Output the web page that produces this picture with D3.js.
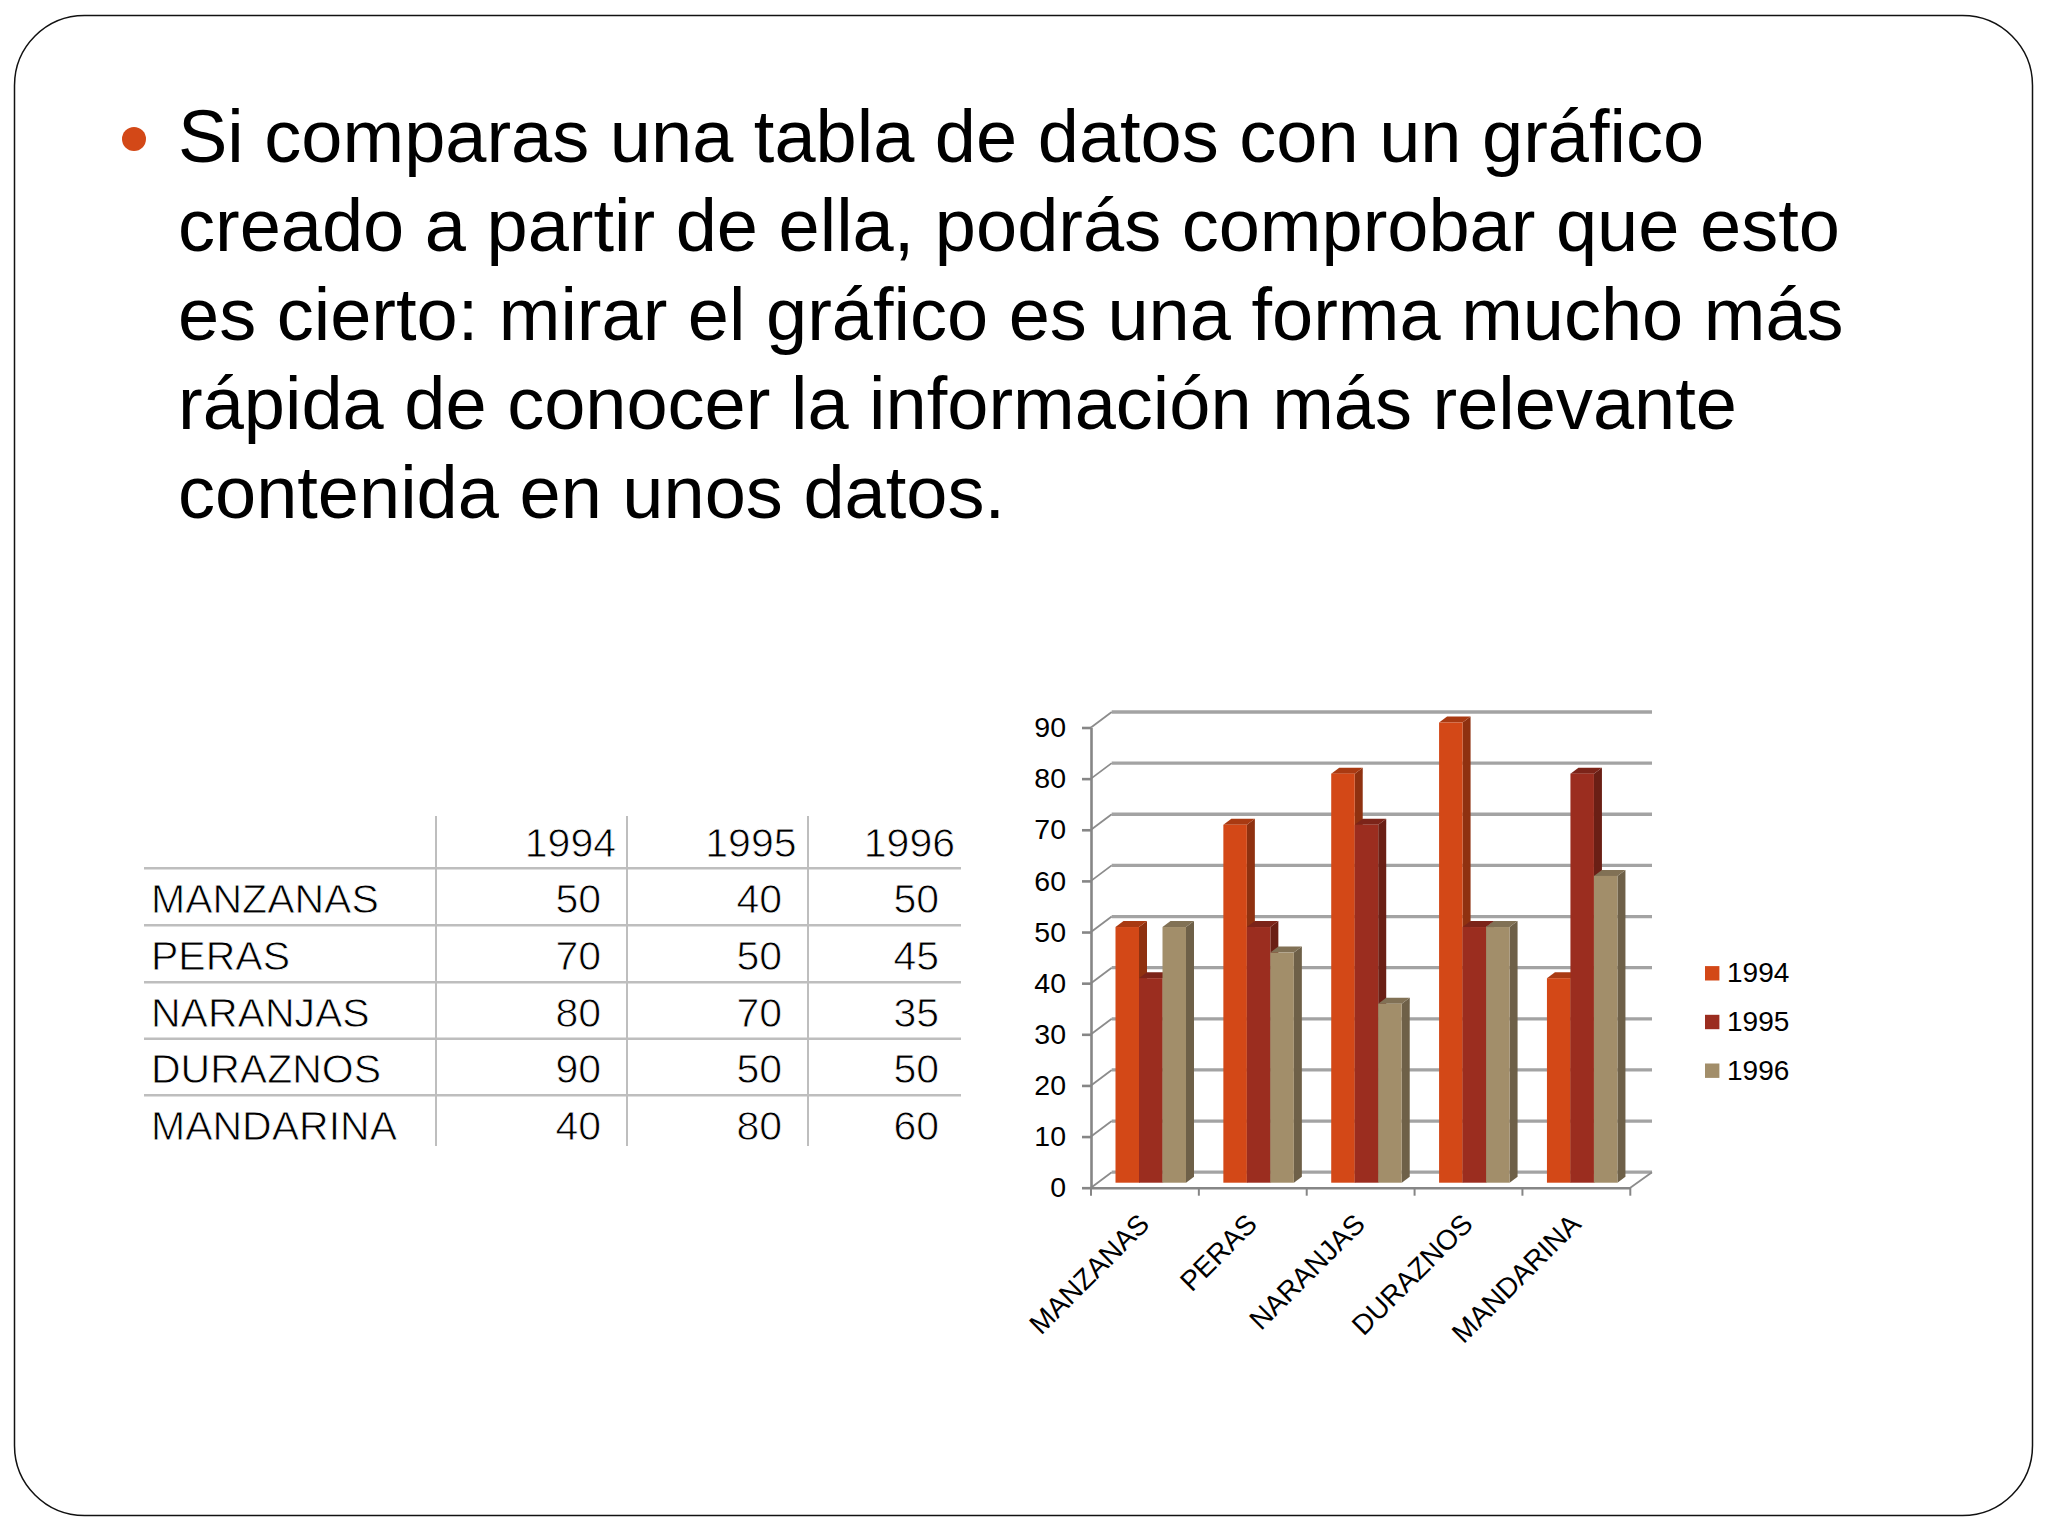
<!DOCTYPE html>
<html>
<head>
<meta charset="utf-8">
<script src="https://d3js.org/d3.v7.min.js"></script>
<style>
  html, body { margin: 0; padding: 0; background: #fff; }
  svg { display: block; font-family: "Liberation Sans", sans-serif; }
</style>
</head>
<body>
<script>
const categories = ["MANZANAS", "PERAS", "NARANJAS", "DURAZNOS", "MANDARINA"];
const years = ["1994", "1995", "1996"];
const values1994 = [50, 70, 80, 90, 40];
const values1995 = [40, 50, 70, 50, 80];
const values1996 = [50, 45, 35, 50, 60];
const yTicks = [0, 10, 20, 30, 40, 50, 60, 70, 80, 90];
const textLines = [
  "Si comparas una tabla de datos con un gráfico",
  "creado a partir de ella, podrás comprobar que esto",
  "es cierto: mirar el gráfico es una forma mucho más",
  "rápida de conocer la información más relevante",
  "contenida en unos datos."
];

const series = [values1994, values1995, values1996];

// front, top and side colours of each series
const front = d3.scaleOrdinal().domain(years).range(["#d34817", "#9b2d1f", "#a28e6a"]);
const topFace = d3.scaleOrdinal().domain(years).range(["#a93a12", "#7c2419", "#817155"]);
const side = d3.scaleOrdinal().domain(years).range(["#8f3110", "#6a1f15", "#6e6048"]);

const svg = d3.select("body").append("svg")
  .attr("width", 2048)
  .attr("height", 1536);

// Slide frame
svg.append("rect")
  .attr("x", 14.5).attr("y", 15.5)
  .attr("width", 2018).attr("height", 1500)
  .attr("rx", 70).attr("ry", 70)
  .attr("fill", "#fff")
  .attr("stroke", "#111")
  .attr("stroke-width", 1.5);

// Bullet and paragraph
svg.append("circle")
  .attr("cx", 134).attr("cy", 139).attr("r", 12)
  .attr("fill", "#d34817");

svg.append("g").selectAll("text")
  .data(textLines)
  .enter()
  .append("text")
  .attr("x", 178)
  .attr("y", (d, i) => 162 + i * 89)
  .attr("font-size", 74)
  .attr("fill", "#000")
  .text(d => d);

// Table
const table = svg.append("g");
const rowY = d3.scalePoint().domain(categories).range([913.3, 1140]);
const colRight = d3.scaleOrdinal().domain(years).range([601, 782, 939]);
const headRight = d3.scaleOrdinal().domain(years).range([616, 796.5, 955]);

[868.3, 925.3, 982.3, 1038.7, 1095.3].forEach(y => {
  table.append("line")
    .attr("x1", 144).attr("x2", 961)
    .attr("y1", y).attr("y2", y)
    .attr("stroke", "#bebebe").attr("stroke-width", 2.5);
});
[436, 627, 808].forEach(x => {
  table.append("line")
    .attr("x1", x).attr("x2", x)
    .attr("y1", 816).attr("y2", 1146)
    .attr("stroke", "#bebebe").attr("stroke-width", 2);
});

function tableText(sel) {
  sel.attr("font-size", 41)
    .attr("fill", "#000")
    .attr("stroke", "#fff")
    .attr("stroke-width", 0.8)
    .attr("paint-order", "fill")
    .attr("text-anchor", "end");
}

years.forEach((year, s) => {
  table.append("text")
    .call(tableText)
    .attr("x", headRight(year))
    .attr("y", 856.7)
    .text(year);

  table.selectAll(`.cell-${year}`)
    .data(series[s])
    .enter()
    .append("text")
    .attr("class", `cell-${year}`)
    .call(tableText)
    .attr("x", colRight(year))
    .attr("y", (d, i) => rowY(categories[i]))
    .text(d => d);
});

table.selectAll(".rowname")
  .data(categories)
  .enter()
  .append("text")
  .attr("class", "rowname")
  .call(tableText)
  .attr("text-anchor", "start")
  .attr("x", 151)
  .attr("y", d => rowY(d))
  .text(d => d);

// Chart
const depthX = 20.7, depthY = 15.5;   // wall offset
const barDX = 8, barDY = 6;           // depth of a bar
const floorGap = 5;

const x0 = d3.scaleBand().domain(categories).range([1091, 1630.3]);
const x1 = d3.scaleBand().domain(years).range([24.5, 95]);
const y = d3.scaleLinear().domain([0, 90]).range([1187.7, 727.5]);

const chart = svg.append("g");

// back wall grid + left wall diagonals
chart.append("g").selectAll("line")
  .data(yTicks)
  .enter()
  .append("line")
  .attr("x1", 1091 + depthX)
  .attr("x2", 1652)
  .attr("y1", d => y(d) - depthY)
  .attr("y2", d => y(d) - depthY)
  .attr("stroke", "#a3a3a3")
  .attr("stroke-width", 3.3);

chart.append("g").selectAll("line")
  .data(yTicks)
  .enter()
  .append("line")
  .attr("x1", 1091)
  .attr("x2", 1091 + depthX)
  .attr("y1", d => y(d))
  .attr("y2", d => y(d) - depthY)
  .attr("stroke", "#8c8c8c")
  .attr("stroke-width", 1.8);

chart.append("line")
  .attr("x1", 1630.3).attr("x2", 1652)
  .attr("y1", y(0)).attr("y2", y(0) - depthY)
  .attr("stroke", "#8c8c8c")
  .attr("stroke-width", 1.8);

// bars
categories.forEach((cat, c) => {
  const g = chart.append("g").attr("transform", `translate(${x0(cat)},0)`);
  years.forEach((year, s) => {
    const v = series[s][c];
    const left = x1(year);
    const right = left + x1.bandwidth();
    const top = y(v) - floorGap;
    const base = y(0) - floorGap;

    g.append("path")
      .attr("d", `M${right},${top}L${right + barDX},${top - barDY}L${right + barDX},${base - barDY}L${right},${base}Z`)
      .attr("fill", side(year));
    g.append("path")
      .attr("d", `M${left},${top}L${left + barDX},${top - barDY}L${right + barDX},${top - barDY}L${right},${top}Z`)
      .attr("fill", topFace(year));
    g.append("rect")
      .attr("x", left)
      .attr("y", top)
      .attr("width", x1.bandwidth())
      .attr("height", base - top)
      .attr("fill", front(year));
  });
});

// axes
const yAxis = chart.append("g")
  .attr("transform", "translate(1091,0)")
  .call(d3.axisLeft(y).tickValues(yTicks).tickSize(9).tickPadding(16).tickSizeOuter(0));
yAxis.selectAll("text")
  .attr("font-size", 28.5)
  .attr("font-family", "Liberation Sans")
  .attr("fill", "#000");

const xAxis = chart.append("g")
  .attr("transform", `translate(0,${y(0)})`)
  .call(d3.axisBottom(x0).tickSize(0).tickSizeOuter(0));
xAxis.selectAll("text")
  .attr("font-size", 28)
  .attr("font-family", "Liberation Sans")
  .attr("fill", "#000")
  .attr("x", 0).attr("y", 0).attr("dy", 0)
  .attr("text-anchor", "end")
  .attr("transform", "translate(6,38) rotate(-45)");

chart.selectAll(".domain, .tick line")
  .attr("stroke", "#868686")
  .attr("stroke-width", 2.6);

// category ticks sit between the groups
chart.append("g").selectAll("line")
  .data(categories.concat(["end"]))
  .enter()
  .append("line")
  .attr("x1", (d, i) => 1091 + i * x0.step())
  .attr("x2", (d, i) => 1091 + i * x0.step())
  .attr("y1", y(0))
  .attr("y2", y(0) + 8)
  .attr("stroke", "#868686")
  .attr("stroke-width", 2);

// legend
const legendY = d3.scalePoint().domain(years).range([973.3, 1070.7]);
const legend = chart.append("g");
legend.selectAll("rect")
  .data(years)
  .enter()
  .append("rect")
  .attr("x", 1705)
  .attr("y", d => legendY(d) - 7.2)
  .attr("width", 14.4)
  .attr("height", 14.4)
  .attr("fill", d => front(d));
legend.selectAll("text")
  .data(years)
  .enter()
  .append("text")
  .attr("x", 1727)
  .attr("y", d => legendY(d) + 9)
  .attr("font-size", 28)
  .attr("fill", "#000")
  .text(d => d);
</script>
</body>
</html>
